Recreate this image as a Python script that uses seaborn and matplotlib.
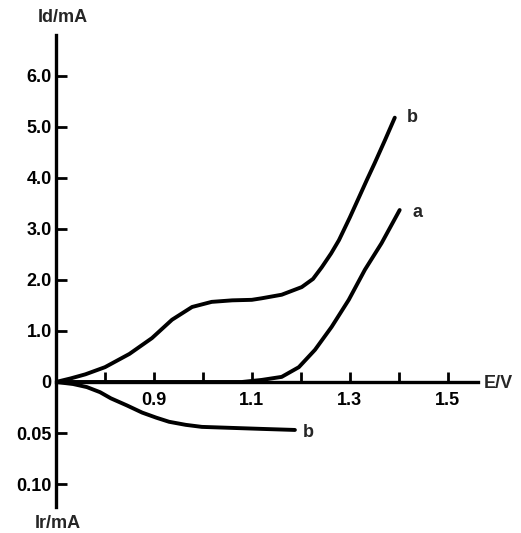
import matplotlib
matplotlib.use("Agg")
import matplotlib.pyplot as plt
import seaborn as sns

# Curve a (Id, mA)
e_a = [0.70, 0.80, 0.90, 1.00, 1.08, 1.12, 1.161, 1.196, 1.229, 1.263, 1.298, 1.331, 1.365, 1.402]
id_a = [0.00, 0.00, 0.00, 0.00, 0.00, 0.04, 0.10, 0.29, 0.63, 1.08, 1.61, 2.20, 2.72, 3.37]

# Curve b (Id, mA)
e_b = [0.70, 0.73, 0.76, 0.80, 0.85, 0.896, 0.937, 0.978, 1.018, 1.06, 1.10, 1.12, 1.161, 1.202,
       1.225, 1.243, 1.262, 1.278, 1.30, 1.318, 1.335, 1.351, 1.372, 1.392]
id_b = [0.00, 0.07, 0.15, 0.29, 0.55, 0.86, 1.22, 1.47, 1.57, 1.60, 1.61, 1.64, 1.71, 1.86,
        2.02, 2.25, 2.52, 2.78, 3.22, 3.60, 3.96, 4.29, 4.74, 5.18]

# Curve b (Ir, mA), drawn below the E axis
e_r = [0.70, 0.735, 0.763, 0.79, 0.812, 0.845, 0.876, 0.905, 0.931, 0.965, 0.998, 1.06, 1.122, 1.188]
ir_b = [0.000, 0.002, 0.005, 0.010, 0.016, 0.023, 0.030, 0.035, 0.039, 0.042, 0.044, 0.045, 0.046, 0.047]

x_ticks = [0.8, 0.9, 1.0, 1.1, 1.2, 1.3, 1.4, 1.5]
x_labels = ["", "0.9", "", "1.1", "", "1.3", "", "1.5"]
id_ticks = [0, 1.0, 2.0, 3.0, 4.0, 5.0, 6.0]
id_labels = ["0", "1.0", "2.0", "3.0", "4.0", "5.0", "6.0"]
ir_ticks = [0.05, 0.10]
ir_labels = ["0.05", "0.10"]

IR_SCALE = 20.0  # 0.05 mA of Ir spans the same height as 1.0 mA of Id

sns.set_style("white")
plt.rcParams["font.family"] = ["Liberation Sans", "DejaVu Sans"]
plt.rcParams["font.weight"] = "bold"

W, H = 521, 533
fig = plt.figure(figsize=(W / 100, H / 100), dpi=100)
ax = fig.add_axes([56 / W, (H - 507) / H, (478 - 56) / W, (507 - 35) / H])

lw = 2.8
sns.lineplot(x=e_a, y=id_a, ax=ax, color="black", lw=lw, sort=False)
sns.lineplot(x=e_b, y=id_b, ax=ax, color="black", lw=lw, sort=False)
sns.lineplot(x=e_r, y=[-v * IR_SCALE for v in ir_b], ax=ax, color="black", lw=lw, sort=False)
for ln in ax.get_lines():
    ln.set_solid_capstyle("round")
    ln.set_solid_joinstyle("round")

ax.set_xlim(0.7, 1.562)
ax.set_ylim(-2.45, 6.8)

for s in ["top", "right"]:
    ax.spines[s].set_visible(False)
ax.spines["bottom"].set_position(("data", 0))
ax.spines["left"].set_linewidth(2.4)
ax.spines["bottom"].set_linewidth(2.4)
ax.spines["left"].set_color("black")
ax.spines["bottom"].set_color("black")

ax.set_xticks(x_ticks)
ax.set_xticklabels(x_labels)
ax.set_yticks(id_ticks + [-t * IR_SCALE for t in ir_ticks])
ax.set_yticklabels(id_labels + ir_labels)
ax.tick_params(axis="x", bottom=True, direction="in", length=7, width=2, pad=7,
               labelsize=13, colors="black")
ax.tick_params(axis="y", left=True, direction="in", length=8, width=2, pad=3,
               labelsize=13, colors="black")
for lab in ax.get_xticklabels() + ax.get_yticklabels():
    lab.set_fontweight("bold")

ax.set_xlabel("")
ax.set_ylabel("")

ax.annotate("b", xy=(e_b[-1], id_b[-1]), xytext=(9, 0), textcoords="offset points",
            fontsize=13, fontweight="bold", va="center", ha="left")
ax.annotate("a", xy=(e_a[-1], id_a[-1]), xytext=(9, -2), textcoords="offset points",
            fontsize=13, fontweight="bold", va="center", ha="left")
ax.annotate("b", xy=(e_r[-1], -ir_b[-1] * IR_SCALE), xytext=(6, -2), textcoords="offset points",
            fontsize=13, fontweight="bold", va="center", ha="left")

fig.text(63 / W, 1 - 18 / H, "Id/mA", fontsize=13, fontweight="bold", ha="center", va="center")
fig.text(58 / W, 1 - 523 / H, "Ir/mA", fontsize=13, fontweight="bold", ha="center", va="center")
fig.text(484 / W, 1 - 384 / H, "E/V", fontsize=13, fontweight="bold", ha="left", va="center")

fig.savefig("out.png", dpi=100)
